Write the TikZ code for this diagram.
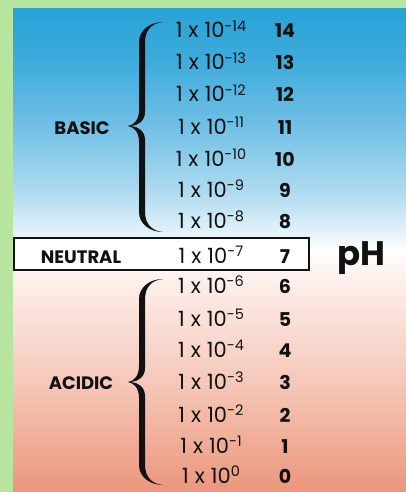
\documentclass[tikz,border=0pt]{standalone}
\usepackage{fontspec}
\setmainfont{Poppins}
\definecolor{greenbg}{RGB}{183,229,160}
\definecolor{bgA}{RGB}{236,150,124}
\definecolor{bgB}{RGB}{240,174,153}
\definecolor{bgC}{RGB}{245,200,186}
\definecolor{bgD}{RGB}{250,224,216}
\definecolor{bgE}{RGB}{254,244,241}
\definecolor{bgF}{RGB}{255,255,255}
\definecolor{bgG}{RGB}{232,244,250}
\definecolor{bgH}{RGB}{175,219,240}
\definecolor{bgI}{RGB}{112,191,229}
\definecolor{bgJ}{RGB}{62,172,220}
\definecolor{bgK}{RGB}{41,162,214}
\definecolor{inkc}{RGB}{17,17,17}
\pgfdeclareverticalshading{phbg}{100bp}{color(0bp)=(bgA); color(25bp)=(bgA); color(30.5bp)=(bgB); color(36.5bp)=(bgC); color(43bp)=(bgD); color(48bp)=(bgE); color(50bp)=(bgF); color(51.5bp)=(bgG); color(56bp)=(bgH); color(63bp)=(bgI); color(69.5bp)=(bgJ); color(75bp)=(bgK); color(100bp)=(bgK)}
\newcommand\sci[1]{1\hspace{6pt}x\hspace{6pt}10\raisebox{6.5pt}{\fontsize{14.5}{14.5}\selectfont #1}}
\newcommand\phbrace[3]{%
\fill[inkc] (163,#1) .. controls (150,#1) and (139,#1+8) .. (139,#1+20)
 -- (139,#2-16) .. controls (139,#2-6) and (134,#2-1) .. (128,#2)
 .. controls (134,#2+1) and (139,#2+6) .. (139,#2+16)
 -- (139,#3-20) .. controls (139,#3-8) and (150,#3) .. (163,#3)
 .. controls (152,#3-1) and (145,#3-8) .. (145,#3-20)
 -- (145,#2+14) .. controls (145,#2+5) and (138,#2+0.5) .. (131,#2)
 .. controls (138,#2-0.5) and (145,#2-5) .. (145,#2-14)
 -- (145,#1+20) .. controls (145,#1+8) and (152,#1+1) .. (163,#1) -- cycle;}
\tikzset{
  mant/.style={inner sep=0pt, anchor=base, text=inkc, font=\fontsize{21}{21}\selectfont},
  phnum/.style={inner sep=0pt, anchor=base, text=inkc, font=\fontsize{19}{19}\selectfont\bfseries},
  grouplabel/.style={inner sep=0pt, anchor=base, text=inkc, font=\fontsize{18}{18}\selectfont\bfseries},
  bigph/.style={inner sep=0pt, anchor=base, text=inkc, font=\fontsize{34}{34}\selectfont\bfseries},
  neutralbox/.style={draw=inkc, line width=1.6pt, fill=white}
}
\begin{document}
\begin{tikzpicture}[x=1pt,y=-1pt]
\useasboundingbox (0,0) rectangle (406,492);
\fill[greenbg] (0,0) rectangle (406,492);
\shade[shading=phbg] (13,9) rectangle (406,492);
\draw[neutralbox] (14,238) rectangle (309,270);
\phbrace{22}{126}{232}
\phbrace{279}{382}{485}
\foreach \p/\e/\b in {14/-14/38, 13/-13/70, 12/-12/102, 11/-11/134, 10/-10/166, 9/-9/197, 8/-8/228, 7/-7/263, 6/-6/293, 5/-5/326, 4/-4/357, 3/-3/389, 2/-2/422, 1/-1/453, 0/0/483} {
  \node[mant] (m\p) at (211,\b) {\sci{\e}};
  \node[phnum] (n\p) at (285,\b) {\p};
}
\node[grouplabel] (basic) at (82,134) {BASIC};
\node[grouplabel] (neutral) at (81,263) {NEUTRAL};
\node[grouplabel] (acidic) at (81,389) {ACIDIC};
\node[bigph] (ph) at (361,265) {pH};
\end{tikzpicture}
\end{document}
